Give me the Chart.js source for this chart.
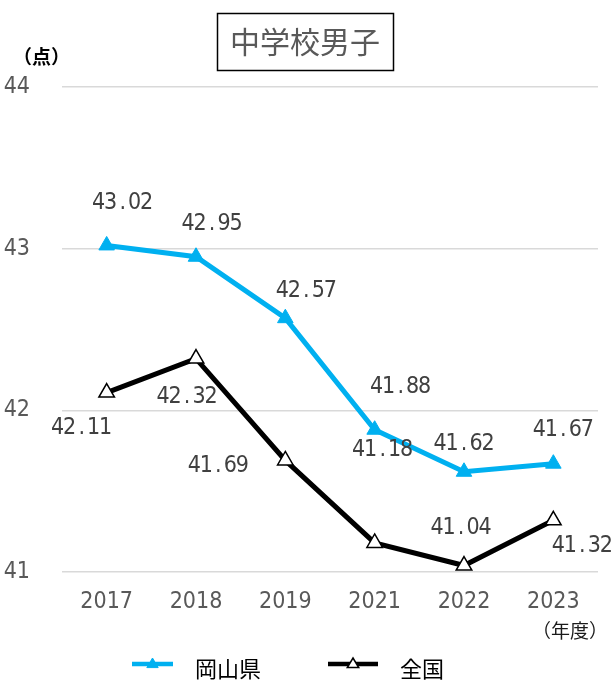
<!DOCTYPE html>
<html><head><meta charset="utf-8">
<script src="https://cdn.jsdelivr.net/npm/chart.js@4.4.1/dist/chart.umd.min.js"></script>
<style>html,body{margin:0;padding:0;background:#fff}#wrap{width:611px;height:681px;position:relative}</style>
</head><body><div id="wrap"><canvas id="c" width="611" height="681"></canvas></div>
<script>
const categories = ['2017','2018','2019','2021','2022','2023'];
const okayama = [43.02, 42.95, 42.57, 41.88, 41.62, 41.67];
const national = [42.11, 42.32, 41.69, 41.18, 41.04, 41.32];
const seriesNames = ['岡山県', '全国'];
const yTicks = [41, 42, 43, 44];
const titleText = '中学校男子';
const yUnit = '（点）';
const xUnit = '（年度）';

const NUM_FONT = '"Liberation Sans Narrow","DejaVu Sans Condensed","Liberation Sans",sans-serif';
const CJK_FONT = '"Noto Sans CJK JP","Noto Sans",sans-serif';
const labelOffsets = [
  [[16,-42],[16,-33],[21,-27],[26,-43],[0,-28],[10,-34]],
  [[-25,35],[-9,38],[-67,6],[8,-93],[-3,-38],[29,26]]
];

function drawMono(ctx, text, cx, cy, cell) {
  const w = text.length * cell;
  let x = cx - w/2 + cell/2;
  for (const ch of text) { ctx.fillText(ch, x, cy); x += cell; }
}

const extras = {
  id: 'extras',
  afterDatasetsDraw(chart) {
    const ctx = chart.ctx;
    ctx.save();
    // data labels
    ctx.fillStyle = '#404040';
    ctx.font = '23px ' + NUM_FONT;
    ctx.textAlign = 'center';
    ctx.textBaseline = 'middle';
    chart.data.datasets.forEach((ds, di) => {
      const meta = chart.getDatasetMeta(di);
      meta.data.forEach((pt, i) => {
        const off = labelOffsets[di][i];
        drawMono(ctx, ds.data[i].toFixed(2), pt.x + off[0], pt.y + off[1], 12);
      });
    });
    // title box
    ctx.lineWidth = 1.5;
    ctx.strokeStyle = '#000';
    ctx.strokeRect(217.5, 13.5, 176, 57);
    ctx.fillStyle = '#595959';
    ctx.font = '30px ' + CJK_FONT;
    ctx.fillText(titleText, 305, 42);
    // units
    ctx.fillStyle = '#000';
    ctx.font = 'bold 19px ' + CJK_FONT;
    ctx.textAlign = 'left';
    ctx.fillText(yUnit, 13, 57);
    ctx.fillStyle = '#1a1a1a';
    ctx.font = '19px ' + CJK_FONT;
    ctx.fillText(xUnit, 532, 631);
    // legend
    const items = [
      {x1:132, x2:173, tx:195, ds: chart.data.datasets[0]},
      {x1:328, x2:378, tx:400, ds: chart.data.datasets[1]}
    ];
    items.forEach(it => {
      const y = 664;
      ctx.strokeStyle = it.ds.borderColor;
      ctx.lineWidth = 4.5;
      ctx.beginPath(); ctx.moveTo(it.x1, y); ctx.lineTo(it.x2, y); ctx.stroke();
      const cx = (it.x1 + it.x2)/2, r = 6;
      ctx.beginPath();
      ctx.moveTo(cx, y - r); ctx.lineTo(cx + r*0.95, y + r*0.6); ctx.lineTo(cx - r*0.95, y + r*0.6); ctx.closePath();
      ctx.fillStyle = it.ds.pointBackgroundColor; ctx.fill();
      ctx.lineWidth = it.ds.pointBorderWidth; ctx.strokeStyle = it.ds.pointBorderColor; ctx.stroke();
      ctx.fillStyle = '#000';
      ctx.font = '22px ' + CJK_FONT;
      ctx.textAlign = 'left';
      ctx.fillText(it.ds.label, it.tx, 669);
    });
    ctx.restore();
  }
};

new Chart(document.getElementById('c'), {
  type: 'line',
  data: {
    labels: categories,
    datasets: [
      { label: seriesNames[0], data: okayama, borderColor: '#00B0F0', borderWidth: 5,
        pointStyle: 'triangle', pointRadius: 9, pointBackgroundColor: '#00B0F0', pointBorderColor: '#00B0F0', pointBorderWidth: 1,
        tension: 0 },
      { label: seriesNames[1], data: national, borderColor: '#000000', borderWidth: 5,
        pointStyle: 'triangle', pointRadius: 9, pointBackgroundColor: '#FFFFFF', pointBorderColor: '#000000', pointBorderWidth: 1.5,
        tension: 0 }
    ]
  },
  options: {
    responsive: false, animation: false, devicePixelRatio: 1,
    layout: { padding: { top: 87, left: 0, right: 13, bottom: 59 } },
    plugins: { legend: { display: false }, tooltip: { enabled: false }, title: { display: false } },
    scales: {
      x: {
        offset: true,
        grid: { display: false, drawTicks: false },
        border: { display: false },
        ticks: { color: '#595959', font: { family: NUM_FONT, size: 23 }, padding: 16, maxRotation: 0 },
        afterFit(s) { s.height = 50; }
      },
      y: {
        min: 41, max: 44,
        grid: { color: '#D9D9D9', lineWidth: 1.5, drawTicks: false },
        border: { display: false },
        afterBuildTicks(s) { s.ticks = yTicks.map(v => ({ value: v })); },
        ticks: { color: '#595959', font: { family: NUM_FONT, size: 23 }, padding: 32 },
        afterFit(s) { s.width = 62; }
      }
    }
  },
  plugins: [extras]
});
</script>
</body></html>
